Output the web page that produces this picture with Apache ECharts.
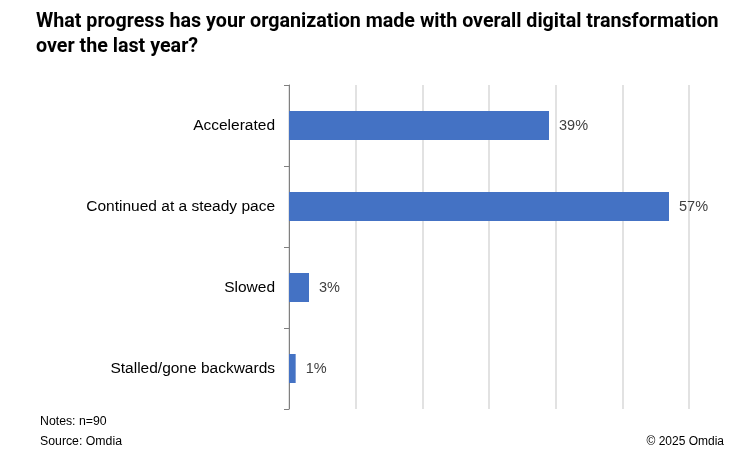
<!DOCTYPE html>
<html>
<head>
<meta charset="utf-8">
<script src="https://cdn.jsdelivr.net/npm/echarts@6/dist/echarts.min.js"></script>
<style>
  html, body { margin: 0; padding: 0; background: #fff; }
  #chart { width: 756px; height: 464px; }
</style>
</head>
<body>
<div id="chart"></div>
<script>
var categories = ['Accelerated', 'Continued at a steady pace', 'Slowed', 'Stalled/gone backwards'];
var values = [39, 57, 3, 1];
var xMax = 60;
var xStep = 10;

var myChart = echarts.init(document.getElementById('chart'));
var options = {
    backgroundColor: '#fff',
    textStyle: { fontFamily: '"Liberation Sans", Arial, sans-serif' },
    title: [{
        text: 'What progress has your organization made with overall digital transformation\nover the last year?',
        left: 31, top: 5,
        textStyle: { fontSize: 19.7, fontWeight: 'bold', color: '#000', lineHeight: 25, fontFamily: 'Roboto' }
    }, {
        text: 'Notes: n=90',
        left: 35, top: 411,
        textStyle: { fontSize: 12.3, fontWeight: 'normal', color: '#000' }
    }, {
        text: 'Source: Omdia',
        left: 35, top: 431,
        textStyle: { fontSize: 12.3, fontWeight: 'normal', color: '#000' }
    }, {
        text: '© 2025 Omdia',
        right: 27, top: 431,
        textStyle: { fontSize: 12, fontWeight: 'normal', color: '#000' }
    }],
    grid: { left: 289, right: 67, top: 85, bottom: 55, containLabel: false },
    xAxis: {
        type: 'value',
        min: 0, max: xMax, interval: xStep,
        axisLine: { show: false },
        axisTick: { show: false },
        axisLabel: { show: false },
        splitLine: { show: true, lineStyle: { color: '#d9d9d9', width: 1.5 } }
    },
    yAxis: {
        type: 'category',
        inverse: true,
        data: categories,
        axisLine: { show: true, lineStyle: { color: '#808080', width: 1 } },
        axisTick: { show: true, length: 5, lineStyle: { color: '#808080' } },
        axisLabel: { color: '#000', fontSize: 15.5, margin: 14 }
    },
    series: [{
        type: 'bar',
        data: values,
        barWidth: 29,
        itemStyle: { color: '#4472C4' },
        label: {
            show: true, position: 'right', distance: 10,
            formatter: '{c}%', color: '#404040', fontSize: 14.5
        }
    }]
};
myChart.setOption(options);
</script>
</body>
</html>
